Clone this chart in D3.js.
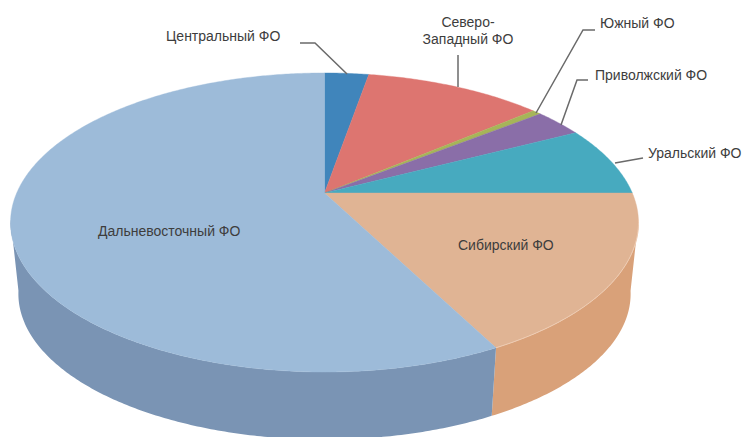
<!DOCTYPE html>
<html lang="ru">
<head>
  <meta charset="UTF-8">
  <title>Федеральные округа</title>
  <script src="https://d3js.org/d3.v7.min.js"></script>
  <style>
    html, body { margin: 0; background: #fff; overflow: hidden; }
    text { font-family: "Liberation Sans", Arial, sans-serif; font-size: 14px; fill: #3d3d3d; }
    .leader { fill: none; stroke: #6a6a6a; stroke-width: 1.5px; }
  </style>
</head>
<body>
  <svg width="755" height="437"></svg>
  <script>
    // shares, clockwise from 12 o'clock
    var districts = ["Центральный ФО", "Северо-Западный ФО", "Южный ФО", "Приволжский ФО", "Уральский ФО", "Сибирский ФО", "Дальневосточный ФО"];
    var shares = [2.75, 11.1, 0.55, 3.05, 7.55, 17.4, 57.6];

    var topColors = ["#4085bb", "#dd7570", "#a6b558", "#8a6ea8", "#47aabf", "#e0b494", "#9dbbd9"];
    var wallColors = { "Сибирский ФО": "#d9a179", "Дальневосточный ФО": "#7a94b4" };

    var svg = d3.select("svg");

    // perspective of the disc: apex of the slices sits above the middle of the ellipse
    var cx = 324.5, cy = 193, R = 307.8, b = 143.7, k = 0.1973;
    var depth = 72, bottomScale = 0.975;

    function project(angle, h) {
      var u = Math.sin(angle), v = Math.cos(angle),
          s = 1 + h * (bottomScale - 1),
          w = 1 + k * v;
      return [cx + s * R * u / w, cy + h * depth - s * b * v / w];
    }

    var pie = d3.pie().sort(null).value(function(d) { return d.share; });
    var slices = pie(districts.map(function(name, i) {
      return { name: name, share: shares[i], color: topColors[i] };
    }));

    var path = d3.line();

    function arcPoints(a0, a1, h) {
      var n = Math.max(2, Math.ceil(Math.abs(a1 - a0) / 0.01));
      return d3.range(n + 1).map(function(i) { return project(a0 + (a1 - a0) * i / n, h); });
    }

    // side walls, only the part that faces the viewer
    var wallFrom = Math.PI / 2 + Math.asin(k) - 0.02,
        wallTo = 2 * Math.PI - Math.PI / 2 - Math.asin(k) + 0.02;

    slices.forEach(function(d) {
      var a0 = Math.max(d.startAngle, wallFrom), a1 = Math.min(d.endAngle, wallTo);
      if (a1 <= a0) return;
      svg.append("path")
        .attr("d", path(arcPoints(a0, a1, 0).concat(arcPoints(a1, a0, 1))) + "Z")
        .attr("fill", wallColors[d.data.name]);
    });

    // top faces
    slices.forEach(function(d) {
      svg.append("path")
        .attr("d", path([project(0, 0).map(function(c, i) { return i ? cy : cx; })].concat(arcPoints(d.startAngle, d.endAngle, 0))) + "Z")
        .attr("fill", d.data.color)
        .attr("stroke", d.data.color)
        .attr("stroke-width", 0.4);
    });

    // pale rim where Siberia's face meets its wall
    var sib = slices[5];
    svg.append("path")
      .attr("d", path(arcPoints(wallFrom, sib.endAngle, 0)))
      .attr("fill", "none").attr("stroke", "#efcdb4").attr("stroke-width", 1);

    // labels and leader lines
    var leaderLines = [
      [[300, 43], [315, 43], [347, 74]],
      [[458, 55], [458, 87]],
      [[595, 30], [583, 30], [536, 113]],
      [[588, 80], [577, 80], [561, 125]],
      [[643, 158], [615, 163]]
    ];
    leaderLines.forEach(function(pts) {
      svg.append("path").attr("class", "leader").attr("d", path(pts));
    });

    var labelRows = [
      { lines: ["Центральный ФО"], x: 166, y: 41, anchor: "start" },
      { lines: ["Северо-", "Западный ФО"], x: 468, y: 27, anchor: "middle" },
      { lines: ["Южный ФО"], x: 600, y: 28, anchor: "start" },
      { lines: ["Приволжский ФО"], x: 595, y: 80, anchor: "start" },
      { lines: ["Уральский ФО"], x: 648, y: 158, anchor: "start" },
      { lines: ["Сибирский ФО"], x: 458, y: 250, anchor: "start" },
      { lines: ["Дальневосточный ФО"], x: 98, y: 236, anchor: "start" }
    ];
    labelRows.forEach(function(l) {
      l.lines.forEach(function(t, i) {
        svg.append("text").attr("x", l.x).attr("y", l.y + i * 17)
          .attr("text-anchor", l.anchor).text(t);
      });
    });
  </script>
</body>
</html>
